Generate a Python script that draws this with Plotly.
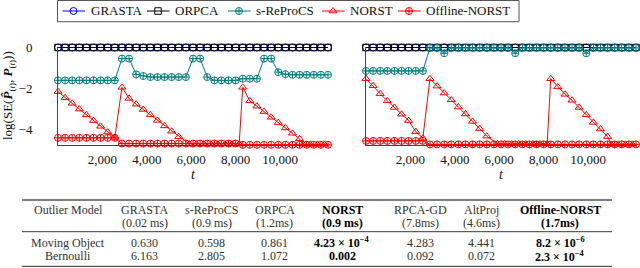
import plotly.graph_objects as go

# ---------------- data ----------------
T = [0, 320, 640, 960, 1280, 1600, 1920, 2240, 2560, 2880, 3200, 3520, 3840,
     4160, 4480, 4800, 5120, 5440, 5760, 6080, 6400, 6720, 7040, 7360, 7680,
     8000, 8320, 8640, 8960, 9280, 9600, 9920, 10240, 10560, 10880, 11200,
     11520, 11840, 12160]
T_NORST = [0, 320, 640, 960, 1280, 1600, 1920, 2240, 2560, 2880, 3200, 3520,
           3840, 4160, 4480, 4800, 5120, 5440, 5920, 6240, 6560, 6880, 7200,
           7520, 7840, 8160, 8320, 8640, 8960, 9280, 9600, 9920, 10240, 10560,
           10880, 11040, 11360, 11680, 12000]

# left panel (moving object)
GRASTA_L = [0, 0, 0, 0, 0, 0, 0, 0, 0, 0, 0, 0, 0, 0, 0, 0, 0, 0, 0, 0, 0, 0, 0,
            0, 0, 0, 0, 0, 0, 0, 0, 0, 0, 0, 0, 0, 0, 0, 0]
ORPCA_L = [0, 0, 0, 0, 0, 0, 0, 0, 0, 0, 0, 0, 0, 0, 0, 0, 0, 0, 0, 0, 0, 0, 0,
           0, 0, 0, 0, 0, 0, 0, 0, 0, 0, 0, 0, 0, 0, 0, 0]
SREPROCS_L = [-1.6, -1.6, -1.6, -1.6, -1.6, -1.6, -1.6, -1.6, -1.6, -0.54, -0.54,
              -1.31, -1.39, -1.44, -1.44, -1.44, -1.44, -1.44, -1.44, -0.54,
              -0.54, -1.44, -1.6, -1.6, -1.6, -1.6, -1.52, -1.52, -1.52, -0.54,
              -0.54, -1.2, -1.3, -1.33, -1.33, -1.33, -1.33, -1.33, -1.33]
NORST_L = [-2.15, -2.45, -2.72, -3.0, -3.28, -3.56, -3.84, -4.12, -4.38,
           -1.94, -2.48, -2.76, -3.02, -3.28, -3.55, -3.82, -4.08, -4.35,
           -4.7, -4.7, -4.7, -4.7, -4.7, -4.7, -4.7, -4.7,
           -1.94, -2.6, -2.86, -3.12, -3.4, -3.66, -3.92, -4.18, -4.45,
           -4.72, -4.72, -4.72, -4.72]
OFFLINE_L = [-4.4, -4.4, -4.4, -4.4, -4.4, -4.4, -4.4, -4.4, -4.4,
             -4.68, -4.68, -4.68, -4.68, -4.68, -4.68, -4.68, -4.68, -4.68,
             -4.68, -4.68, -4.68, -4.68, -4.68, -4.68, -4.68, -4.68,
             -4.74, -4.74, -4.74, -4.74, -4.74, -4.74, -4.74, -4.74, -4.74,
             -4.74, -4.74, -4.74, -4.74]

# right panel (Bernoulli)
GRASTA_R = [0, 0, 0, 0, 0, 0, 0, 0, 0, 0, 0, 0, 0, 0, 0, 0, 0, 0, 0, 0, 0, 0, 0,
            0, 0, 0, 0, 0, 0, 0, 0, 0, 0, 0, 0, 0, 0, 0, 0]
ORPCA_R = [0, 0, 0, 0, 0, 0, 0, 0, 0, 0, 0, 0, 0, 0, 0, 0, 0, 0, 0, 0, 0, 0, 0,
           0, 0, 0, 0, 0, 0, 0, 0, 0, 0, 0, 0, 0, 0, 0, 0]
SREPROCS_R = [-1.14, -1.14, -1.14, -1.14, -1.14, -1.14, -1.14, -1.14, -1.14,
              -0.02, -0.02, -0.28, -0.02, -0.02, -0.02, -0.02, -0.02, -0.02,
              -0.02, -0.02, -0.02, -0.28, -0.02, -0.02, -0.02, -0.02, -0.02,
              -0.02, -0.02, -0.02, -0.02, -0.28, -0.02, -0.02, -0.02, -0.02,
              -0.02, -0.02, -0.02]
NORST_R = [-1.52, -1.86, -2.25, -2.6, -2.92, -3.25, -3.56, -4.1, -4.42,
           -1.52, -1.88, -2.22, -2.55, -2.9, -3.24, -3.6, -3.95, -4.32,
           -4.7, -4.7, -4.7, -4.7, -4.7, -4.7, -4.7, -4.7,
           -1.52, -1.92, -2.28, -2.57, -2.92, -3.28, -3.65, -3.97, -4.34,
           -4.72, -4.72, -4.72, -4.72]
OFFLINE_R = [-4.55, -4.55, -4.55, -4.55, -4.55, -4.55, -4.55, -4.55, -4.55,
             -4.72, -4.72, -4.72, -4.72, -4.72, -4.72, -4.72, -4.72, -4.72,
             -4.72, -4.72, -4.72, -4.72, -4.72, -4.72, -4.72, -4.72,
             -4.72, -4.72, -4.72, -4.72, -4.72, -4.72, -4.72, -4.72, -4.72,
             -4.72, -4.72, -4.72, -4.72]

X_TICKS = [2000, 4000, 6000, 8000, 10000]
Y_TICKS = [0, -2, -4]
Y_TICK_TEXT = ["0", "\u22122", "\u22124"]

# table
TABLE_HEADER = ["Outlier Model", "GRASTA", "s-ReProCS", "ORPCA", "NORST",
                "RPCA-GD", "AltProj", "Offline-NORST"]
TABLE_TIME = ["", "(0.02 ms)", "(0.9 ms)", "(1.2ms)", "(0.9 ms)", "(7.8ms)",
              "(4.6ms)", "(1.7ms)"]
ROW_MOVING = ["Moving Object", "0.630", "0.598", "0.861",
              "4.23 \u00d7 10<sup>\u22124</sup>", "4.283", "4.441",
              "8.2 \u00d7 10<sup>\u22126</sup>"]
ROW_BERNOULLI = ["Bernoulli", "6.163", "2.805", "1.072", "0.002", "0.092",
                 "0.072", "2.3 \u00d7 10<sup>\u22124</sup>"]
BOLD_COLS = [4, 7]

# ---------------- style ----------------
W, H = 640, 268
FONT = "Liberation Serif"
SERIES = [
    ("GRASTA", "#0000ff", "circle-open", 7),
    ("ORPCA", "#000000", "square-open", 6.5),
    ("s-ReProCS", "#008080", "circle-cross-open", 7),
    ("NORST", "#ff0000", "triangle-up-open", 7),
    ("Offline-NORST", "#ff0000", "circle-cross-open", 7),
]
LEGEND_TEXT_X = [88.5, 173, 254, 348, 424]   # legend text start (px)
LEGEND_Y = 11                                # legend row centre (px)
LEGEND_BOX = (57.5, 519, 0.5, 21.7)          # x0, x1, y0, y1 (px)
LEFT = [(T, GRASTA_L), (T, ORPCA_L), (T, SREPROCS_L), (T_NORST, NORST_L), (T, OFFLINE_L)]
RIGHT = [(T, GRASTA_R), (T, ORPCA_R), (T, SREPROCS_R), (T_NORST, NORST_R), (T, OFFLINE_R)]


def px_x(p):
    return p / W


def px_y(p):
    return 1 - p / H


fig = go.Figure()
for (name, color, sym, size), (xl, yl), (xr, yr) in zip(SERIES, LEFT, RIGHT):
    for xs, ys, ax in ((xl, yl, ""), (xr, yr, "2")):
        fig.add_trace(go.Scatter(
            x=xs, y=ys, mode="lines+markers", name=name, showlegend=False,
            xaxis="x" + ax, yaxis="y" + ax, cliponaxis=False,
            line=dict(color=color, width=1),
            marker=dict(symbol=sym, size=size, color=color,
                        line=dict(color=color, width=1)),
        ))

# legend samples drawn on a pixel-scaled helper axis covering the legend box
bx0, bx1, by0, by1 = LEGEND_BOX
annotations = []
for (name, color, sym, size), tx in zip(SERIES, LEGEND_TEXT_X):
    fig.add_trace(go.Scatter(
        x=[tx - 26, tx - 3.5], y=[LEGEND_Y, LEGEND_Y], mode="lines",
        xaxis="x3", yaxis="y3", showlegend=False, hoverinfo="skip",
        line=dict(color=color, width=1)))
    fig.add_trace(go.Scatter(
        x=[tx - 15], y=[LEGEND_Y], mode="markers", name=name,
        xaxis="x3", yaxis="y3", showlegend=False, cliponaxis=False,
        marker=dict(symbol=sym, size=size, color=color,
                    line=dict(color=color, width=1))))
    annotations.append(dict(
        text=name, x=px_x(tx), y=px_y(LEGEND_Y), xref="paper", yref="paper",
        showarrow=False, xanchor="left", yanchor="middle",
        font=dict(family=FONT, size=13, color="#111")))

YDOM = [px_y(145), px_y(47.1)]
axis_common = dict(showline=True, linecolor="#444", linewidth=1, mirror=False,
                   showgrid=False, zeroline=False, ticks="",
                   tickfont=dict(family=FONT, size=13, color="#111"))
fig.update_layout(
    width=W, height=H, margin=dict(l=0, r=0, t=0, b=0),
    paper_bgcolor="white", plot_bgcolor="rgba(0,0,0,0)",
    font=dict(family=FONT, color="#111"),
    showlegend=False,
    xaxis=dict(domain=[px_x(58), px_x(328)], range=[0, 12160],
               tickvals=X_TICKS, tickformat=",", ticklabelstandoff=2,
               title=dict(text="<i>t</i>", standoff=0,
                          font=dict(family=FONT, size=14)),
               automargin=False, **axis_common),
    yaxis=dict(domain=YDOM, range=[-4.75, 0.02], tickvals=Y_TICKS,
               ticktext=Y_TICK_TEXT, ticklabelstandoff=22, automargin=False,
               **axis_common),
    xaxis2=dict(domain=[px_x(366), px_x(636)], range=[0, 12160],
                tickvals=X_TICKS, tickformat=",", ticklabelstandoff=2,
                title=dict(text="<i>t</i>", standoff=0,
                           font=dict(family=FONT, size=14)),
                automargin=False, anchor="y2", **axis_common),
    yaxis2=dict(domain=YDOM, range=[-4.75, 0.02], tickvals=Y_TICKS,
                showticklabels=False, anchor="x2", automargin=False,
                **axis_common),
    xaxis3=dict(domain=[px_x(bx0), px_x(bx1)], range=[bx0, bx1],
                visible=False, fixedrange=True, anchor="y3"),
    yaxis3=dict(domain=[px_y(by1), px_y(by0)], range=[by1, by0],
                visible=False, fixedrange=True, anchor="x3"),
)

annotations.append(dict(
    text="log(SE(<b><i>P\u0302</i></b><sub>(<i>t</i>)</sub>, <b><i>P</i></b><sub>(<i>t</i>)</sub>))",
    x=px_x(9), y=px_y(96), xref="paper", yref="paper", textangle=-90,
    showarrow=False, xanchor="center", yanchor="middle",
    font=dict(family=FONT, size=13, color="#111")))

COL_X = [68, 144.5, 211.7, 274.5, 342, 420, 481, 560]
ROW_Y = [210.3, 223.2, 242.7, 256]
ROWS = [TABLE_HEADER, TABLE_TIME, ROW_MOVING, ROW_BERNOULLI]
for ci, cx in enumerate(COL_X):
    for ry, row in zip(ROW_Y, ROWS):
        txt = row[ci]
        if not txt:
            continue
        bold = ci in BOLD_COLS
        if bold:
            txt = "<b>" + txt + "</b>"
        annotations.append(dict(
            text=txt, x=px_x(cx), y=px_y(ry), xref="paper", yref="paper",
            showarrow=False, xanchor="center", yanchor="middle",
            font=dict(family=FONT, size=12, color="#000" if bold else "#333")))
fig.update_layout(annotations=annotations)

shapes = [dict(type="rect", xref="paper", yref="paper", layer="below",
               x0=px_x(bx0), x1=px_x(bx1), y0=px_y(by1), y1=px_y(by0),
               line=dict(color="#555", width=1), fillcolor="rgba(0,0,0,0)")]
for ry, wdt, col in ((200, 1.3, "#555"), (231.7, 0.9, "#222"), (266.3, 1.3, "#555")):
    shapes.append(dict(type="line", xref="paper", yref="paper",
                       x0=px_x(22), x1=px_x(612), y0=px_y(ry), y1=px_y(ry),
                       line=dict(color=col, width=wdt)))
fig.update_layout(shapes=shapes)

fig.write_html("out.html", config={"displayModeBar": False},
               post_script="document.body.style.margin='0';document.body.style.overflow='hidden';")
